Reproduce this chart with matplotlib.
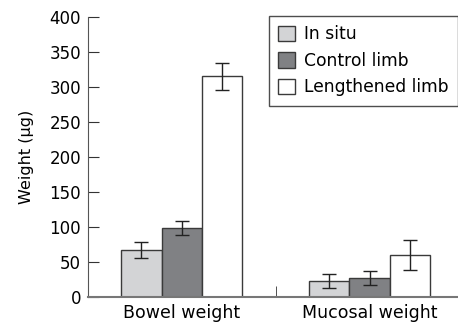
import numpy as np
import matplotlib
matplotlib.use("Agg")
import matplotlib.pyplot as plt

plt.rcParams['font.family'] = ['DejaVu Sans']

# data
groups = ["Bowel weight", "Mucosal weight"]
series = ["In situ", "Control limb", "Lengthened limb"]
means = [[67, 23], [98, 27], [315, 60]]
errs = [[11, 10], [10, 9.5], [19, 21]]
colors = ["#d3d4d6", "#808184", "#ffffff"]

fig = plt.figure(figsize=(4.58, 3.26), dpi=100)
ax = fig.add_axes([0.192, 0.089, 0.82, 0.859])

x = np.arange(len(groups))
w = 0.215
for i, name in enumerate(series):
    ax.bar(x + (i - 1) * w, means[i], w, yerr=errs[i], color=colors[i],
           edgecolor="#3a3a3a", linewidth=1.0, label=name,
           error_kw=dict(ecolor="#222222", elinewidth=1.0, capsize=5, capthick=1.0))

ax.set_xlim(-0.5, 1.5)
ax.set_ylim(0, 400)
ax.set_yticks(np.arange(0, 401, 50))
ax.set_xticks(x)
ax.set_xticklabels(groups, fontsize=12.5)
ax.set_xticks([0.5], minor=True)
ax.tick_params(axis="x", which="major", length=0, pad=5)
ax.tick_params(axis="x", which="minor", direction="in", length=8, color="#333333")
ax.tick_params(axis="y", direction="in", length=8, labelsize=12, color="#333333", pad=5)
ax.set_ylabel("Weight (µg)", fontsize=11.5, labelpad=11)

for s in ["top", "right"]:
    ax.spines[s].set_visible(False)
ax.spines["left"].set_color("#555555")
ax.spines["bottom"].set_color("#777777")
ax.spines["bottom"].set_linewidth(1.5)

leg = ax.legend(loc="upper left", bbox_to_anchor=(0.482, 1.004), fontsize=12.3,
                frameon=True, fancybox=False, edgecolor="#222222",
                handlelength=1.0, handleheight=1.0, handletextpad=0.5,
                borderpad=0.55, labelspacing=0.5, borderaxespad=0)
leg.get_frame().set_linewidth(1.0)

fig.savefig("out.png", dpi=100)
